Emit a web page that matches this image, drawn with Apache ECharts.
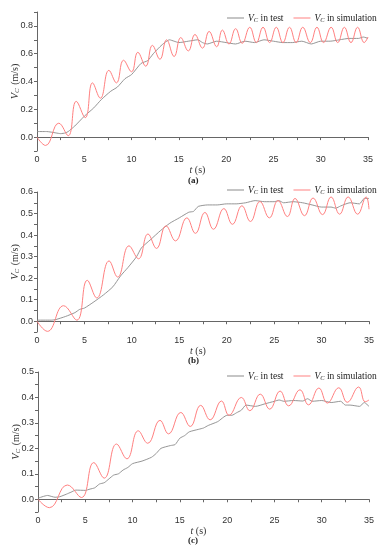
<!DOCTYPE html>
<html>
<head>
<meta charset="utf-8">
<script src="https://cdn.jsdelivr.net/npm/echarts@6/dist/echarts.min.js"></script>
<style>
html,body{margin:0;padding:0;background:#fff;}
#main{width:388px;height:550px;}
</style>
</head>
<body>
<div id="main"></div>
<script>
// ---- Data ----
// Panel (a)
const tTestA = [0,1,2,2.5,3,3.3,4,5,6,6.8,7.8,8.5,9.3,10,11,11.7,12.3,13,13.5,14,14.5,15,16,17,17.5,18,19,20,21,22,23,24,25,26,27,28,29,30,31,32,33,34,34.5,35];
const vTestA = [0.04,0.04,0.03,0.025,0.03,0.04,0.08,0.15,0.21,0.27,0.33,0.36,0.42,0.45,0.53,0.55,0.60,0.65,0.68,0.70,0.69,0.68,0.69,0.70,0.68,0.67,0.69,0.68,0.67,0.69,0.68,0.70,0.69,0.68,0.68,0.69,0.67,0.69,0.69,0.70,0.71,0.71,0.72,0.71];
const tSimA = [0,0.9,2.3,3.3,4.15,5.1,5.87,6.7,7.6,8.4,9.15,10.0,10.66,11.5,12.2,13.0,13.7,14.5,15.2,16.0,16.7,17.5,18.2,19.0,19.6,20.3,21.0,21.7,22.5,23.2,23.9,24.6,25.3,26.0,26.7,27.4,28.1,28.9,29.6,30.3,31.1,31.8,32.5,33.2,33.9,34.6,35];
const vSimA = [0,-0.06,0.10,0.01,0.257,0.14,0.39,0.28,0.48,0.39,0.553,0.47,0.61,0.51,0.66,0.56,0.70,0.58,0.716,0.62,0.738,0.64,0.76,0.65,0.77,0.67,0.78,0.675,0.79,0.68,0.79,0.68,0.79,0.68,0.79,0.68,0.79,0.68,0.79,0.68,0.79,0.68,0.79,0.68,0.79,0.68,0.72];
// Panel (b)
const tTestB = [0,1.5,2,3,4,4.5,5,6,7,8,8.8,9.6,10.5,11,12,13,14,15,16,16.5,17,18,19,20,21,22,23,24,25,25.5,26,27,28,29,30,31,31.5,32,33,34,34.5,35];
const vTestB = [0.005,0.005,0.008,0.022,0.04,0.055,0.061,0.09,0.122,0.16,0.21,0.25,0.30,0.34,0.38,0.42,0.455,0.48,0.506,0.51,0.533,0.54,0.54,0.545,0.545,0.55,0.56,0.555,0.555,0.56,0.55,0.555,0.55,0.54,0.53,0.53,0.525,0.535,0.55,0.545,0.57,0.57];
const tSimB = [0,1.1,2.8,4.2,5.3,6.3,7.6,8.5,9.7,10.7,11.7,12.6,13.6,14.6,15.8,16.7,17.7,18.6,19.7,20.6,21.6,22.5,23.5,24.5,25.4,26.4,27.2,28.2,29.1,30.1,31.0,31.9,32.8,33.8,34.7,35];
const vSimB = [0,-0.047,0.072,0.005,0.19,0.108,0.28,0.205,0.35,0.29,0.405,0.338,0.443,0.373,0.48,0.408,0.505,0.427,0.523,0.45,0.536,0.463,0.556,0.48,0.56,0.486,0.57,0.49,0.572,0.495,0.577,0.497,0.577,0.497,0.577,0.52];
// Panel (c)
const tTestC = [0,1,1.8,2.3,3,3.5,4,5,5.5,6,6.5,7,7.5,8,8.5,9,9.5,10,11,12,12.5,13,14,14.5,15,15.5,16,17,17.5,18,19,20,20.5,21,21.5,22,23,24,25,25.5,26,27,28,28.5,29,30,31,32,32.5,33,34,34.5,35];
const vTestC = [0.004,0.015,0.008,0.01,0.02,0.028,0.036,0.035,0.04,0.045,0.06,0.065,0.08,0.095,0.1,0.115,0.125,0.14,0.15,0.165,0.18,0.2,0.211,0.215,0.24,0.25,0.265,0.275,0.28,0.29,0.305,0.33,0.33,0.34,0.35,0.37,0.365,0.375,0.385,0.39,0.385,0.388,0.386,0.395,0.385,0.388,0.38,0.385,0.37,0.37,0.365,0.38,0.365];
const tSimC = [0,1.2,3.1,4.6,5.9,7.0,8.3,9.4,10.6,11.6,12.9,13.8,15.1,16.1,17.2,18.2,19.4,20.2,21.5,22.4,23.5,24.5,25.6,26.5,27.7,28.6,29.7,30.6,31.8,32.7,33.9,34.6,35];
const vSimC = [0,-0.033,0.056,0.007,0.144,0.083,0.217,0.159,0.269,0.22,0.31,0.257,0.341,0.286,0.369,0.312,0.386,0.33,0.40,0.348,0.413,0.354,0.425,0.367,0.43,0.371,0.437,0.378,0.438,0.381,0.441,0.383,0.39];

const panelLabels = ['(a)','(b)','(c)'];
const xMin = 0, xMax = 35;
const yMins = [-0.1, -0.05, -0.05];
const yMaxs = [0.9, 0.6, 0.5];
const yIntervals = [0.1, 0.05, 0.05];
const nameTest = 'VC in test';
const nameSim = 'VC in simulation';

// ---- Build chart ----
const zip = (t, v) => t.map((x, i) => [x, v[i]]);
const grids = [
  {left: 37, right: 20, top: 12, height: 139, containLabel: false, outerBoundsMode: 'none'},
  {left: 37, right: 19, top: 192, height: 140, containLabel: false, outerBoundsMode: 'none'},
  {left: 38, right: 19, top: 372, height: 140, containLabel: false, outerBoundsMode: 'none'}
];
const axisCol = '#666';
const labelStyle = {fontFamily: 'Liberation Sans, Arial', fontSize: 9, color: '#333'};
const serif = 'Liberation Serif, Times New Roman, serif';

const xAxes = grids.map((g, i) => ({
  type: 'value', gridIndex: i, min: xMin, max: xMax, interval: 2.5,
  axisLine: {lineStyle: {color: axisCol, width: 1}},
  axisTick: {length: 3, lineStyle: {color: axisCol}},
  splitLine: {show: false},
  axisLabel: Object.assign({margin: 4, formatter: v => (Math.abs(v % 5) < 1e-6 ? String(v) : '')}, labelStyle),
  name: '{i|t} (s)', nameLocation: 'middle', nameGap: 14, nameMoveOverlap: false,
  nameTextStyle: {fontFamily: serif, fontSize: 10, color: '#333', padding: [0, 10, 0, 0],
    rich: {i: {fontFamily: serif, fontStyle: 'italic', fontSize: 10, color: '#333'}}}
}));

const yAxes = grids.map((g, i) => ({
  type: 'value', gridIndex: i, min: yMins[i], max: yMaxs[i], interval: yIntervals[i],
  axisLine: {show: true, lineStyle: {color: axisCol, width: 1}},
  axisTick: {show: true, length: 3, lineStyle: {color: axisCol}},
  splitLine: {show: false},
  axisLabel: Object.assign({margin: 4, formatter: v => {
    const tenth = Math.round(v * 100) / 100;
    if (tenth < -1e-9) return '';
    if (i === 0) return Math.round(v * 10) % 2 === 0 ? tenth.toFixed(1) : '';
    return Math.abs(Math.round(v * 20) % 2) === 0 ? tenth.toFixed(1) : '';
  }}, labelStyle),
  name: '{i|V}{s|C} (m/s)', nameLocation: 'middle', nameGap: 22, nameRotate: 90, nameMoveOverlap: false,
  nameTextStyle: {fontFamily: serif, fontSize: 10, color: '#333', lineHeight: 12, verticalAlign: 'middle',
    rich: {
      i: {fontFamily: serif, fontStyle: 'italic', fontSize: 10.5, color: '#333', lineHeight: 12, verticalAlign: 'middle'},
      s: {fontFamily: serif, fontStyle: 'italic', fontSize: 7, color: '#333', lineHeight: 12, verticalAlign: 'bottom', padding: [0, 1, 0, 0]}
    }}
}));

const tests = [zip(tTestA, vTestA), zip(tTestB, vTestB), zip(tTestC, vTestC)];
const sims = [zip(tSimA, vSimA), zip(tSimB, vSimB), zip(tSimC, vSimC)];
const series = [];
grids.forEach((g, i) => {
  series.push({name: nameTest, type: 'line', xAxisIndex: i, yAxisIndex: i, data: tests[i],
    showSymbol: false, symbol: 'none', smooth: 0.2, lineStyle: {color: '#8a8a8a', width: 0.9}, itemStyle: {color: '#8a8a8a'}});
  series.push({name: nameSim, type: 'line', xAxisIndex: i, yAxisIndex: i, data: sims[i],
    showSymbol: false, symbol: 'none', smooth: 0.45, lineStyle: {color: '#ff8080', width: 1}, itemStyle: {color: '#ff8080'}});
});

const legendTops = [13, 185, 371];
const legends = legendTops.map(top => ({
  top: top, left: 227, itemWidth: 17, itemHeight: 1, itemGap: 10, icon: 'rect', padding: 0,
  data: [nameTest, nameSim],
  formatter: n => '{i|V}{s|C}{t|' + n.slice(2) + '}',
  textStyle: {fontFamily: serif, fontSize: 9.5, color: '#222', padding: [0, 0, 0, -1],
    rich: {
      i: {fontFamily: serif, fontStyle: 'italic', fontSize: 9.5, color: '#222', lineHeight: 12, verticalAlign: 'middle'},
      s: {fontFamily: serif, fontStyle: 'italic', fontSize: 6.5, color: '#222', lineHeight: 12, verticalAlign: 'bottom'},
      t: {fontFamily: serif, fontSize: 9.5, color: '#222', lineHeight: 12, verticalAlign: 'middle'}
    }}
}));

const labelYs = [182, 362, 542];
const graphic = panelLabels.map((s, i) => ({
  type: 'text', left: 188, top: labelYs[i] - 6,
  style: {text: s, font: 'bold 9px ' + serif, fill: '#222'}
}));

const chart = echarts.init(document.getElementById('main'), null, {renderer: 'canvas'});
chart.setOption({
  animation: false,
  backgroundColor: '#fff',
  grid: grids,
  xAxis: xAxes,
  yAxis: yAxes,
  legend: legends,
  series: series,
  graphic: graphic
});
</script>
</body>
</html>
